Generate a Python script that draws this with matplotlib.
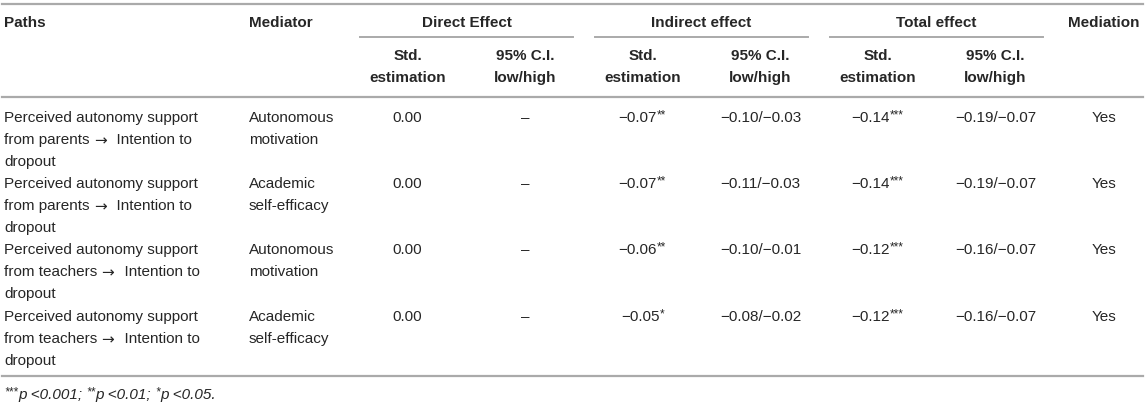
import matplotlib
matplotlib.use("Agg")
import matplotlib.pyplot as plt

# Table content
paths = [
    "Perceived autonomy support\nfrom parents \u2192  Intention to\ndropout",
    "Perceived autonomy support\nfrom parents \u2192  Intention to\ndropout",
    "Perceived autonomy support\nfrom teachers \u2192  Intention to\ndropout",
    "Perceived autonomy support\nfrom teachers \u2192  Intention to\ndropout",
]
mediators = ["Autonomous\nmotivation", "Academic\nself-efficacy",
             "Autonomous\nmotivation", "Academic\nself-efficacy"]
direct_est = ["0.00", "0.00", "0.00", "0.00"]
direct_ci = ["\u2013", "\u2013", "\u2013", "\u2013"]
indirect_est = ["\u22120.07", "\u22120.07", "\u22120.06", "\u22120.05"]
indirect_sig = ["**", "**", "**", "*"]
indirect_ci = ["\u22120.10/\u22120.03", "\u22120.11/\u22120.03",
               "\u22120.10/\u22120.01", "\u22120.08/\u22120.02"]
total_est = ["\u22120.14", "\u22120.14", "\u22120.12", "\u22120.12"]
total_sig = ["***", "***", "***", "***"]
total_ci = ["\u22120.19/\u22120.07", "\u22120.19/\u22120.07",
            "\u22120.16/\u22120.07", "\u22120.16/\u22120.07"]
mediation = ["Yes", "Yes", "Yes", "Yes"]

group_headers = ["Direct Effect", "Indirect effect", "Total effect"]
sub_headers = ["Std.\nestimation", "95% C.I.\nlow/high"]
footnote = [("***", "p <0.001; "), ("**", "p <0.01; "), ("*", "p <0.05.")]

FONT = ["Liberation Sans", "DejaVu Sans"]
TXT = "#262626"
LINE = "#aaaaaa"
FS = 11
SUP = 8.5
LH = 22

fig = plt.figure(figsize=(11.45, 4.04), dpi=100)
ax = fig.add_axes([0, 0, 1, 1])
ax.set_xlim(0, 1145)
ax.set_ylim(404, 0)
ax.axis("off")
renderer = fig.canvas.get_renderer()


def width(t):
    return t.get_window_extent(renderer).width


def lines(x, y, s, ha="left", bold=False):
    weight = "bold" if bold else "normal"
    for i, part in enumerate(s.split("\n")):
        yy = y + i * LH
        if "\u2192" in part:
            # draw the arrow with a wider glyph
            before, after = part.split("\u2192")
            t = ax.text(x, yy, before, ha="left", va="center", fontsize=FS,
                        family=FONT, color=TXT)
            xx = x + width(t)
            t = ax.text(xx, yy + 1, "\u2192", ha="left", va="center",
                        fontsize=11, family=["DejaVu Sans"], color=TXT)
            xx += width(t) + 2
            ax.text(xx, yy, after, ha="left", va="center", fontsize=FS,
                    family=FONT, color=TXT)
        else:
            ax.text(x, yy, part, ha=ha, va="center", fontsize=FS,
                    family=FONT, color=TXT, fontweight=weight)


def with_sup(x, y, main, sup):
    t1 = ax.text(0, y, main, ha="left", va="center", fontsize=FS,
                 family=FONT, color=TXT)
    t2 = ax.text(0, y - 3, sup, ha="left", va="center", fontsize=SUP,
                 family=FONT, color=TXT)
    w1, w2 = width(t1), width(t2)
    x0 = x - (w1 + w2) / 2
    t1.set_x(x0)
    t2.set_x(x0 + w1)


# column positions
x_path, x_med = 4, 249
group_spans = [(360, 573), (595, 808), (830, 1043)]
x_med_col = 1104

# rules
ax.plot([2, 1143], [4, 4], color=LINE, lw=1.6)
ax.plot([2, 1143], [97, 97], color=LINE, lw=1.6)
ax.plot([2, 1143], [376, 376], color=LINE, lw=1.6)
for a, b in group_spans:
    ax.plot([a, b], [37, 37], color=LINE, lw=1.4)

# headers
lines(x_path, 23, "Paths", bold=True)
lines(x_med, 23, "Mediator", bold=True)
lines(x_med_col, 23, "Mediation", ha="center", bold=True)
sub_x = []
for (a, b), name in zip(group_spans, group_headers):
    c = (a + b) / 2
    lines(c, 23, name, ha="center", bold=True)
    sub_x.append((c - 59, c + 59))
    lines(c - 59, 56, sub_headers[0], ha="center", bold=True)
    lines(c + 59, 56, sub_headers[1], ha="center", bold=True)

# body rows
row_y = [118, 184, 250, 317]
for i, y in enumerate(row_y):
    lines(x_path, y, paths[i])
    lines(x_med, y, mediators[i])
    lines(sub_x[0][0], y, direct_est[i], ha="center")
    lines(sub_x[0][1], y, direct_ci[i], ha="center")
    with_sup(sub_x[1][0], y, indirect_est[i], indirect_sig[i])
    lines(sub_x[1][1], y, indirect_ci[i], ha="center")
    with_sup(sub_x[2][0], y, total_est[i], total_sig[i])
    lines(sub_x[2][1], y, total_ci[i], ha="center")
    lines(x_med_col, y, mediation[i], ha="center")

# footnote
fx = 4
for sup, main in footnote:
    t2 = ax.text(fx, 392, sup, ha="left", va="center", fontsize=SUP,
                 family=FONT, color=TXT, style="italic")
    fx += width(t2)
    t1 = ax.text(fx, 395, main, ha="left", va="center", fontsize=FS,
                 family=FONT, color=TXT, style="italic")
    fx += width(t1)

plt.savefig("out.png", dpi=100)
